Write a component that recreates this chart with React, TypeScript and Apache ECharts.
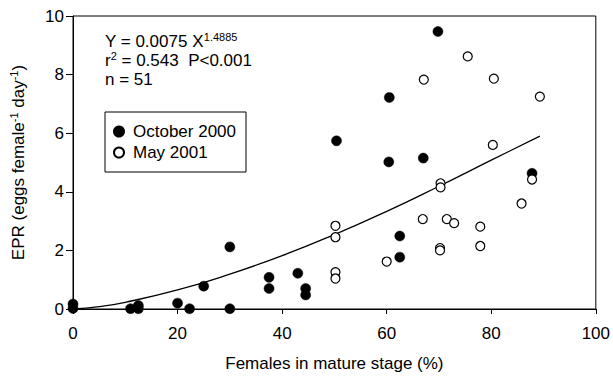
import React, { useEffect, useRef } from "react";
import * as echarts from "echarts";

const octoberX = [0, 0, 11, 12.5, 12.5, 20, 22.3, 25, 30, 30, 37.5, 37.5, 43, 44.5, 44.5, 50.4, 60.5, 60.4, 67, 69.8, 62.5, 62.5, 87.8];
const octoberY = [0.17, 0.02, 0.01, 0.12, 0.01, 0.2, 0.01, 0.78, 2.12, 0.01, 1.08, 0.7, 1.22, 0.7, 0.48, 5.74, 7.22, 5.02, 5.15, 9.47, 2.49, 1.77, 4.63];
const mayX = [75.5, 67.1, 80.5, 89.3, 80.3, 87.8, 70.3, 70.3, 50.2, 50.2, 50.2, 50.2, 60, 66.9, 71.5, 72.9, 77.9, 77.9, 70.2, 70.2, 85.8];
const mayY = [8.62, 7.83, 7.86, 7.25, 5.6, 4.42, 4.29, 4.15, 2.84, 2.45, 1.26, 1.04, 1.62, 3.07, 3.07, 2.93, 2.81, 2.15, 2.08, 2.0, 3.6];
const fitX = [0, 5, 10, 20, 30, 40, 50, 60, 70, 80, 89.3];
const fitY = [0, 0.08, 0.23, 0.65, 1.19, 1.82, 2.54, 3.33, 4.19, 5.08, 5.9];
const xTicks = [0, 20, 40, 60, 80, 100];
const yTicks = [0, 2, 4, 6, 8, 10];

const FONT = "Liberation Sans, Arial, Helvetica, sans-serif";

export default function App() {
  const ref = useRef<HTMLDivElement>(null);
  useEffect(() => {
    if (!ref.current) return;
    const chart = echarts.init(ref.current, null, { renderer: "svg" });
    const supStyle = { fontSize: 11, fontFamily: FONT, color: "#000", padding: [0, 0, 10, 0] };
    chart.setOption({
      animation: false,
      backgroundColor: "#fff",
      textStyle: { fontFamily: FONT, color: "#000" },
      grid: { left: 71, right: 16, top: 16, bottom: 62, show: true, borderColor: "#000", borderWidth: 1 },
      xAxis: {
        type: "value",
        min: 0,
        max: 100,
        interval: 20,
        name: "Females in mature stage (%)",
        nameLocation: "middle",
        nameGap: 46,
        nameTextStyle: { fontSize: 17, color: "#000", fontFamily: FONT },
        axisLine: { lineStyle: { color: "#000", width: 1 } },
        axisTick: { show: true, inside: false, length: 5, lineStyle: { color: "#000" } },
        axisLabel: { fontSize: 17, color: "#000", margin: 16, fontFamily: FONT,
          formatter: (v: number) => (xTicks.includes(v) ? String(v) : "") },
        splitLine: { show: false },
      },
      yAxis: {
        type: "value",
        min: 0,
        max: 10,
        interval: 2,
        name: "EPR (eggs female{sup|-1} day{sup|-1})",
        nameLocation: "middle",
        nameGap: 44,
        nameTextStyle: { fontSize: 17, color: "#000", fontFamily: FONT, rich: { sup: supStyle } },
        axisLine: { lineStyle: { color: "#000", width: 1 } },
        axisTick: { show: true, inside: false, length: 7, lineStyle: { color: "#000" } },
        axisLabel: { fontSize: 17, color: "#000", margin: 9, fontFamily: FONT,
          formatter: (v: number) => (yTicks.includes(v) ? String(v) : "") },
        splitLine: { show: false },
      },
      legend: {
        orient: "vertical",
        left: 105,
        top: 112,
        padding: [11, 10, 11, 8],
        itemGap: 4,
        itemWidth: 10,
        itemHeight: 10,
        borderColor: "#000",
        borderWidth: 1,
        textStyle: { fontSize: 17, color: "#000", fontFamily: FONT, padding: [0, 0, 0, 4] },
        data: [
          { name: "October 2000", icon: "circle" },
          { name: "May 2001", icon: "circle" },
        ],
      },
      graphic: [
        {
          type: "text",
          left: 105,
          top: 31,
          style: {
            text: "Y = 0.0075 X{sup|1.4885}\nr{sup|2} = 0.543  P<0.001\nn = 51",
            font: `17px ${FONT}`,
            fill: "#000",
            lineHeight: 19,
            rich: { sup: { fontSize: 11, fontFamily: FONT, fill: "#000", padding: [0, 0, 9, 0] } },
          },
        },
      ],
      series: [
        {
          type: "line",
          name: "fit",
          data: fitX.map((x, i) => [x, fitY[i]]),
          smooth: true,
          showSymbol: false,
          lineStyle: { color: "#000", width: 1.3 },
          silent: true,
        },
        {
          type: "scatter",
          name: "October 2000",
          clip: false,
          symbol: "circle",
          symbolSize: 10,
          itemStyle: { color: "#000", borderColor: "#000", borderWidth: 0.5, opacity: 1 },
          data: octoberX.map((x, i) => [x, octoberY[i]]),
          z: 3,
        },
        {
          type: "scatter",
          name: "May 2001",
          clip: false,
          symbol: "circle",
          symbolSize: 9,
          itemStyle: { color: "#fff", borderColor: "#000", borderWidth: 1.2, opacity: 1 },
          data: mayX.map((x, i) => [x, mayY[i]]),
          z: 4,
        },
      ],
    });
    return () => chart.dispose();
  }, []);
  return <div ref={ref} style={{ width: 613, height: 377, position: "absolute", left: 0, top: 0 }} />;
}
